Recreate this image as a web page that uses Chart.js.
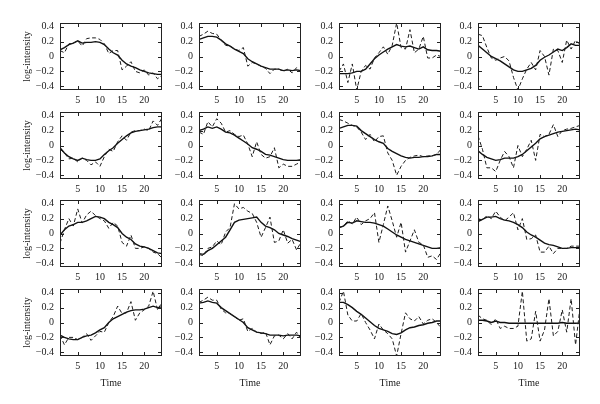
<!DOCTYPE html>
<html><head><meta charset="utf-8">
<script src="https://cdn.jsdelivr.net/npm/chart.js@4.4.1/dist/chart.umd.min.js"></script>
<style>
html,body{margin:0;padding:0;background:#fff;}
#wrap{position:relative;width:600px;height:404px;overflow:hidden;background:#fff;}
canvas{position:absolute;}
</style></head><body><div id="wrap"></div>
<script>
// ---- data ----
const time = [1,2,3,4,5,6,7,8,9,10,11,12,13,14,15,16,17,18,19,20,21,22,23,24];
const xTickValues = [5,10,15,20];
const yTickValues = [-0.4,-0.2,0,0.2,0.4];
const yAxisTitle = 'log-intensity';
const xAxisTitle = 'Time';

const smooth_r1c1 = [0.09,0.12,0.16,0.18,0.21,0.18,0.19,0.19,0.2,0.19,0.16,0.1,0.05,0.02,-0.05,-0.1,-0.13,-0.15,-0.18,-0.2,-0.22,-0.23,-0.24,-0.24];
const observed_r1c1 = [0.08,0.05,0.17,0.18,0.21,0.14,0.24,0.25,0.25,0.23,0.17,0.04,0.08,0.08,-0.18,-0.13,-0.07,-0.2,-0.22,-0.18,-0.25,-0.22,-0.3,-0.25];
const smooth_r1c2 = [0.23,0.25,0.27,0.27,0.26,0.22,0.17,0.14,0.1,0.07,0.04,-0.03,-0.07,-0.1,-0.13,-0.15,-0.17,-0.17,-0.17,-0.19,-0.18,-0.19,-0.18,-0.19];
const observed_r1c2 = [0.27,0.3,0.34,0.31,0.3,0.22,0.15,0.14,0.1,0.08,0.12,-0.13,-0.08,-0.1,-0.13,-0.16,-0.23,-0.17,-0.17,-0.2,-0.17,-0.22,-0.15,-0.22];
const smooth_r1c3 = [-0.23,-0.23,-0.23,-0.22,-0.2,-0.2,-0.17,-0.1,-0.03,0.02,0.06,0.1,0.13,0.16,0.14,0.13,0.14,0.12,0.1,0.13,0.09,0.08,0.08,0.07];
const observed_r1c3 = [-0.2,-0.1,-0.35,-0.1,-0.45,-0.2,-0.12,-0.17,-0.02,0.05,0.13,0.03,0.15,0.45,0.12,0.1,0.36,0.05,0.1,0.27,-0.02,-0.02,0.02,0.0];
const smooth_r1c4 = [0.15,0.1,0.05,0.0,-0.03,-0.06,-0.1,-0.14,-0.18,-0.2,-0.2,-0.18,-0.16,-0.12,-0.05,-0.01,0.02,0.06,0.1,0.08,0.12,0.17,0.15,0.15];
const observed_r1c4 = [0.3,0.28,0.12,-0.02,-0.05,-0.02,0.0,-0.06,-0.28,-0.45,-0.3,-0.17,-0.08,-0.18,0.08,0.0,-0.25,0.1,0.08,-0.08,0.22,0.1,0.22,0.16];

const smooth_r2c1 = [-0.03,-0.1,-0.15,-0.18,-0.2,-0.17,-0.19,-0.2,-0.2,-0.18,-0.12,-0.07,-0.03,0.03,0.08,0.13,0.17,0.19,0.2,0.21,0.22,0.24,0.25,0.25];
const observed_r2c1 = [-0.05,-0.1,-0.18,-0.17,-0.22,-0.17,-0.2,-0.26,-0.22,-0.28,-0.15,-0.05,-0.08,0.05,0.13,0.07,0.18,0.2,0.2,0.22,0.2,0.33,0.27,0.37];
const smooth_r2c2 = [0.2,0.22,0.25,0.23,0.25,0.22,0.18,0.17,0.14,0.1,0.06,0.02,-0.03,-0.05,-0.08,-0.12,-0.13,-0.15,-0.17,-0.19,-0.2,-0.2,-0.2,-0.19];
const observed_r2c2 = [0.18,0.15,0.32,0.25,0.36,0.3,0.18,0.2,0.15,0.12,0.14,0.02,-0.15,0.05,-0.12,-0.17,-0.15,-0.03,-0.3,-0.25,-0.28,-0.28,-0.25,-0.22];
const smooth_r2c3 = [0.23,0.25,0.27,0.27,0.26,0.2,0.16,0.12,0.08,0.05,0.03,-0.04,-0.08,-0.11,-0.14,-0.16,-0.17,-0.16,-0.16,-0.15,-0.15,-0.14,-0.12,-0.12];
const observed_r2c3 = [0.35,0.33,0.3,0.27,0.25,0.18,0.08,0.15,0.05,0.12,0.13,-0.1,-0.2,-0.4,-0.28,-0.2,-0.16,-0.14,-0.13,-0.15,-0.14,-0.14,-0.12,-0.05];
const smooth_r2c4 = [-0.07,-0.12,-0.16,-0.18,-0.2,-0.19,-0.17,-0.17,-0.17,-0.15,-0.12,-0.07,-0.02,0.03,0.09,0.12,0.14,0.16,0.18,0.19,0.2,0.21,0.22,0.21];
const observed_r2c4 = [0.13,-0.05,-0.3,-0.3,-0.35,-0.2,-0.08,-0.15,-0.3,0.0,-0.15,-0.05,0.07,-0.2,0.15,0.12,0.15,0.28,0.12,0.2,0.22,0.23,0.25,0.27];

const smooth_r3c1 = [-0.02,0.05,0.1,0.12,0.15,0.15,0.17,0.2,0.23,0.22,0.2,0.15,0.12,0.08,0.0,-0.05,-0.08,-0.14,-0.17,-0.18,-0.2,-0.23,-0.26,-0.27];
const observed_r3c1 = [-0.13,0.05,0.2,0.1,0.33,0.14,0.25,0.3,0.24,0.2,0.17,0.07,0.15,0.1,-0.12,-0.17,-0.02,-0.2,-0.2,-0.18,-0.2,-0.25,-0.27,-0.33];
const smooth_r3c2 = [-0.27,-0.28,-0.23,-0.2,-0.15,-0.1,-0.05,0.05,0.15,0.18,0.19,0.2,0.21,0.22,0.15,0.1,0.08,0.05,0.0,-0.02,-0.04,-0.07,-0.09,-0.11];
const observed_r3c2 = [-0.28,-0.3,-0.2,-0.18,-0.1,-0.15,0.02,0.08,0.4,0.33,0.35,0.3,0.27,0.15,-0.05,0.08,0.22,-0.12,-0.1,0.05,-0.13,-0.08,-0.22,-0.12];
const smooth_r3c3 = [0.08,0.1,0.15,0.14,0.17,0.16,0.15,0.15,0.14,0.12,0.1,0.06,0.02,-0.02,-0.05,-0.08,-0.1,-0.12,-0.14,-0.16,-0.18,-0.2,-0.2,-0.19];
const observed_r3c3 = [0.08,0.1,0.17,0.13,0.22,0.12,0.17,0.2,0.28,-0.12,0.12,0.37,0.17,-0.05,0.15,-0.25,-0.1,0.05,-0.12,-0.15,-0.32,-0.3,-0.35,-0.25];
const smooth_r3c4 = [0.16,0.19,0.22,0.22,0.23,0.2,0.18,0.17,0.15,0.12,0.08,0.02,-0.02,-0.05,-0.09,-0.13,-0.15,-0.16,-0.18,-0.2,-0.2,-0.19,-0.19,-0.19];
const observed_r3c4 = [0.2,0.18,0.24,0.2,0.3,0.22,0.17,0.22,0.28,0.05,0.2,-0.08,-0.07,-0.02,-0.25,-0.25,-0.17,-0.27,-0.2,-0.2,-0.2,-0.17,-0.17,-0.17];

const smooth_r4c1 = [-0.17,-0.2,-0.22,-0.23,-0.23,-0.2,-0.18,-0.17,-0.14,-0.1,-0.07,0.0,0.05,0.08,0.11,0.14,0.16,0.17,0.17,0.18,0.2,0.22,0.2,0.21];
const observed_r4c1 = [-0.17,-0.3,-0.2,-0.2,-0.23,-0.2,-0.15,-0.24,-0.18,-0.12,-0.13,0.0,0.08,0.22,0.12,0.13,0.28,0.03,0.13,0.17,0.22,0.42,0.17,0.27];
const smooth_r4c2 = [0.26,0.27,0.29,0.27,0.26,0.2,0.16,0.12,0.08,0.04,0.0,-0.07,-0.1,-0.13,-0.14,-0.15,-0.17,-0.17,-0.17,-0.18,-0.17,-0.17,-0.17,-0.18];
const observed_r4c2 = [0.27,0.3,0.34,0.3,0.3,0.18,0.13,0.12,0.08,0.03,0.05,-0.12,-0.08,-0.13,-0.15,-0.13,-0.3,-0.18,-0.17,-0.22,-0.15,-0.22,-0.13,-0.22];
const smooth_r4c3 = [0.27,0.27,0.24,0.2,0.15,0.11,0.06,0.01,-0.04,-0.08,-0.1,-0.12,-0.15,-0.16,-0.14,-0.1,-0.07,-0.06,-0.04,-0.03,-0.01,0.0,0.02,0.02];
const observed_r4c3 = [0.27,0.42,0.1,0.02,0.02,0.12,0.0,-0.1,-0.22,-0.02,-0.1,-0.15,-0.22,-0.45,-0.15,0.13,0.05,0.02,0.08,-0.02,0.03,0.05,0.0,-0.07];
const smooth_r4c4 = [0.03,0.03,0.02,0.0,0.02,0.0,0.0,-0.01,-0.01,-0.01,-0.01,-0.01,-0.01,-0.01,-0.01,-0.01,-0.01,-0.01,-0.01,0.0,-0.01,-0.01,-0.01,-0.01];
const observed_r4c4 = [0.1,0.05,0.03,-0.03,0.05,-0.08,-0.05,-0.08,-0.08,-0.05,0.42,-0.25,-0.22,0.15,-0.25,-0.1,0.32,-0.18,-0.12,0.17,-0.13,0.32,-0.3,0.2];

const panels = [
  [smooth_r1c1, observed_r1c1],[smooth_r1c2, observed_r1c2],[smooth_r1c3, observed_r1c3],[smooth_r1c4, observed_r1c4],
  [smooth_r2c1, observed_r2c1],[smooth_r2c2, observed_r2c2],[smooth_r2c3, observed_r2c3],[smooth_r2c4, observed_r2c4],
  [smooth_r3c1, observed_r3c1],[smooth_r3c2, observed_r3c2],[smooth_r3c3, observed_r3c3],[smooth_r3c4, observed_r3c4],
  [smooth_r4c1, observed_r4c1],[smooth_r4c2, observed_r4c2],[smooth_r4c3, observed_r4c3],[smooth_r4c4, observed_r4c4]
];

// ---- layout ----
const colLeft = [60,199,339,478];
const rowTop = [23,112,200,289];
const FW = 102, FH = 67, LW = 58, PT = 4, PR = 4, PB = 36;
const FONT = {family:'"Liberation Serif", "DejaVu Serif", serif', size:10};
const TXT = '#222';

function fmt(v){
  if (Math.abs(v) < 1e-9) return '0';
  const s = Math.abs(v).toFixed(1);
  return v < 0 ? '\u2212' + s : s;
}

const framePlugin = {
  id:'frame',
  afterDraw(chart){
    const {ctx, chartArea:a} = chart;
    const xs = chart.scales.x, ys = chart.scales.y;
    ctx.save();
    ctx.strokeStyle = '#222';
    ctx.lineWidth = 1;
    const L = Math.round(a.left)+0.5, R = Math.round(a.right)-0.5, T = Math.round(a.top)+0.5, B = Math.round(a.bottom)-0.5;
    ctx.strokeRect(L, T, R-L, B-T);
    const tl = 3.5;
    ctx.beginPath();
    xTickValues.forEach(v => {
      const px = Math.round(xs.getPixelForValue(v)) + 0.5;
      ctx.moveTo(px, B); ctx.lineTo(px, B - tl);
      ctx.moveTo(px, T); ctx.lineTo(px, T + tl);
    });
    yTickValues.forEach(v => {
      const py = Math.round(ys.getPixelForValue(v)) + 0.5;
      ctx.moveTo(L, py); ctx.lineTo(L + tl, py);
      ctx.moveTo(R, py); ctx.lineTo(R - tl, py);
    });
    ctx.stroke();
    ctx.restore();
  }
};

const wrap = document.getElementById('wrap');
panels.forEach((p, i) => {
  const row = Math.floor(i/4), col = i % 4;
  const cv = document.createElement('canvas');
  const W = LW + FW + PR, H = PT + FH + PB;
  cv.width = W; cv.height = H;
  cv.style.width = W + 'px'; cv.style.height = H + 'px';
  cv.style.left = (colLeft[col] - LW) + 'px';
  cv.style.top = (rowTop[row] - PT) + 'px';
  wrap.appendChild(cv);
  const toXY = arr => arr.map((v, k) => ({x: time[k], y: v}));
  new Chart(cv, {
    type:'line',
    data:{datasets:[
      {data: toXY(p[1]), borderColor:'#1c1c1c', borderWidth:1, borderDash:[4,2.5], pointRadius:0, tension:0, fill:false},
      {data: toXY(p[0]), borderColor:'#111', borderWidth:1.4, pointRadius:0, tension:0, fill:false}
    ]},
    options:{
      responsive:false, animation:false, devicePixelRatio:1,
      layout:{padding:{left:0, top:PT, right:PR, bottom:0}},
      plugins:{legend:{display:false}, tooltip:{enabled:false}},
      events:[],
      scales:{
        x:{type:'linear', min:1, max:24,
          afterBuildTicks: s => { s.ticks = xTickValues.map(v => ({value:v})); },
          afterFit: s => { s.height = PB; s.paddingLeft = 0; s.paddingRight = 0; s.paddingTop = 0; s.paddingBottom = 0; },
          grid:{display:false, drawTicks:false}, border:{display:false},
          ticks:{padding:4, font:FONT, color:TXT, maxRotation:0, autoSkip:false, callback: v => String(v)},
          title:{display: row === 3, text: xAxisTitle, font:FONT, color:TXT, padding:{top:0, bottom:3}}
        },
        y:{type:'linear', min:-0.45, max:0.45,
          afterBuildTicks: s => { s.ticks = yTickValues.map(v => ({value:v})); },
          afterFit: s => { s.width = LW; s.paddingTop = 0; s.paddingBottom = 0; s.paddingLeft = 0; s.paddingRight = 0; },
          grid:{display:false, drawTicks:false}, border:{display:false},
          ticks:{padding:6, font:FONT, color:TXT, autoSkip:false, callback: v => fmt(v)},
          title:{display: col === 0, text: yAxisTitle, font:FONT, color:TXT, padding:{top:19, bottom:0}}
        }
      }
    },
    plugins:[framePlugin]
  });
});
</script></body></html>
